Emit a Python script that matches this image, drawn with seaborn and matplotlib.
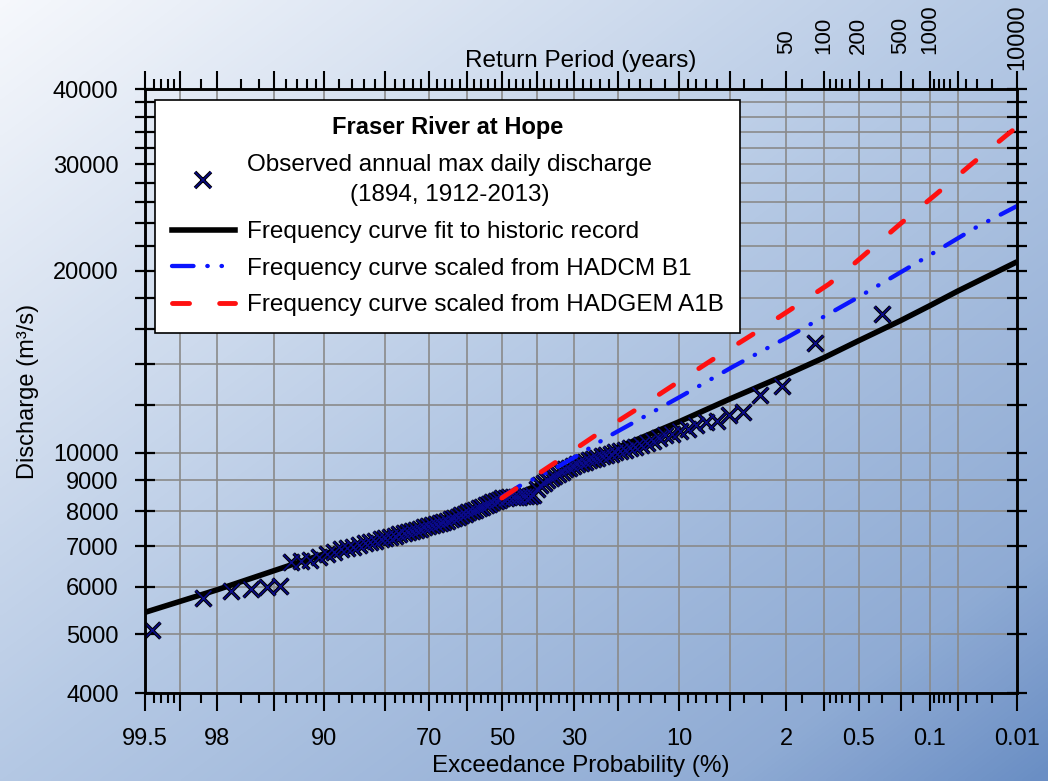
import numpy as np
import matplotlib
matplotlib.use("Agg")
import matplotlib.pyplot as plt
from matplotlib.colors import LinearSegmentedColormap
from matplotlib.lines import Line2D
from matplotlib.ticker import FixedLocator, FixedFormatter, NullLocator
import seaborn as sns
from statistics import NormalDist

plt.rcParams['font.family'] = ['Liberation Sans', 'DejaVu Sans']

# ---------------- data ----------------
obs_exceed = [0.30, 1.19, 2.16, 3.14, 4.11, 5.08, 6.05, 7.03, 8.00, 8.97, 9.94, 10.92,
              11.89, 12.86, 13.83, 14.81, 15.78, 16.75, 17.72, 18.70, 19.67, 20.64, 21.61,
              22.59, 23.56, 24.53, 25.51, 26.48, 27.45, 28.42, 29.40, 30.37, 31.34, 32.31,
              33.29, 34.26, 35.23, 36.20, 37.18, 38.15, 39.12, 40.09, 41.07, 42.04, 43.01,
              43.98, 44.96, 45.93, 46.90, 47.87, 48.85, 49.82, 50.79, 51.77, 52.74, 53.71,
              54.68, 55.66, 56.63, 57.60, 58.57, 59.55, 60.52, 61.49, 62.46, 63.44, 64.41,
              65.38, 66.35, 67.33, 68.30, 69.27, 70.24, 71.22, 72.19, 73.16, 74.13, 75.11,
              76.08, 77.05, 78.03, 79.00, 79.97, 80.94, 81.92, 82.89, 83.86, 84.83, 85.81,
              86.78, 87.75, 88.72, 89.70, 90.67, 91.64, 92.61, 93.59, 94.56, 95.53, 96.50,
              97.48, 98.45, 99.42]
obs_q = [16960, 15175, 12900, 12480, 11680, 11560, 11290, 11240, 11110, 10950, 10840, 10730,
         10710, 10560, 10450, 10370, 10300, 10230, 10170, 10110, 10060, 10010, 9960,
         9910, 9860, 9810, 9760, 9710, 9660, 9610, 9560, 9500, 9440, 9380,
         9300, 9230, 9150, 9080, 9000, 8920, 8850, 8700, 8510, 8490, 8480,
         8470, 8460, 8450, 8440, 8430, 8420, 8400, 8360, 8320, 8270, 8230,
         8180, 8140, 8090, 8050, 8000, 7960, 7910, 7870, 7830, 7790, 7760,
         7720, 7690, 7650, 7620, 7590, 7550, 7520, 7480, 7450, 7420, 7380,
         7350, 7320, 7290, 7260, 7230, 7190, 7150, 7110, 7080, 7030, 6990,
         6960, 6918, 6848, 6787, 6709, 6641, 6615, 6589, 6011, 5988, 5935,
         5897, 5752, 5090]

fit_exceed = [99.5, 98, 95, 90, 80, 70, 60, 50, 40, 30, 20, 10, 5, 2, 1, 0.5, 0.2, 0.1, 0.05, 0.01]
fit_q = [5440, 5930, 6376, 6800, 7260, 7657, 7987, 8331, 8824, 9472, 10205, 11254, 12267,
         13460, 14365, 15323, 16540, 17513, 18510, 20700]

b1_exceed = [50, 44.8, 35.0, 29.6, 22.15, 9.9, 4.75, 1.98, 0.52, 0.112, 0.0305, 0.01]
b1_q = [8440, 8812, 9420, 9860, 10628, 12373, 13882, 15509, 18028, 21015, 23630, 25600]

a1b_exceed = [50, 34.6, 25.05, 16.8, 10.8, 6.48, 3.56, 1.87, 0.908, 0.597, 0.2, 0.086, 0.0352,
              0.0136, 0.01]
a1b_q = [8410, 9665, 10669, 11754, 12930, 14230, 15660, 17236, 19020, 20280, 23940, 26780,
         30000, 33500, 34600]

x_major = [99.5, 99, 98, 95, 90, 80, 70, 60, 50, 40, 30, 20, 10, 5, 2, 1, 0.5, 0.2, 0.1, 0.05, 0.01]
x_labeled = [99.5, 98, 90, 70, 50, 30, 10, 2, 0.5, 0.1, 0.01]
x_minor = [99.4, 99.3, 99.2, 99.1, 98.5, 97, 96, 94, 93, 92, 91, 88, 86, 84, 82, 78, 76, 74, 72,
           68, 66, 64, 62, 58, 56, 54, 52, 48, 46, 44, 42, 38, 36, 34, 32, 28, 26, 24, 22,
           18, 16, 14, 12, 9, 8, 7, 6, 4, 3, 1.5, 0.9, 0.8, 0.7, 0.6, 0.4, 0.3, 0.15,
           0.09, 0.08, 0.07, 0.06, 0.04, 0.03, 0.02]
rp_labeled = [50, 100, 200, 500, 1000, 10000]
y_ticks = [4000, 5000, 6000, 7000, 8000, 9000, 10000, 12000, 14000, 16000, 18000, 20000,
           22000, 24000, 26000, 28000, 30000, 32000, 34000, 36000, 38000, 40000]
y_labeled = [4000, 5000, 6000, 7000, 8000, 9000, 10000, 20000, 30000, 40000]

# ---------------- probability scale helpers ----------------
_nd = NormalDist()
_inv = np.vectorize(lambda v: _nd.inv_cdf(v), otypes=[float])
_cdf = np.vectorize(lambda v: _nd.cdf(v), otypes=[float])


def p_fwd(p):
    p = np.clip(np.asarray(p, dtype=float), 1e-7, 100 - 1e-7)
    return _inv(p / 100.0)


def p_inv(z):
    return 100.0 * _cdf(np.asarray(z, dtype=float))


def t_fwd(t):
    t = np.clip(np.asarray(t, dtype=float), 1 + 1e-9, 1e12)
    return _inv(1.0 - 1.0 / t)


def t_inv(z):
    return 1.0 / (1.0 - np.clip(_cdf(np.asarray(z, dtype=float)), 0, 1 - 1e-12))


# ---------------- figure ----------------
W, H = 1048, 781
fig = plt.figure(figsize=(W / 100, H / 100), dpi=100)

bgax = fig.add_axes([0, 0, 1, 1], zorder=-10)
gx = np.linspace(0, 1, 300)[None, :]
gy = np.linspace(0, 1, 240)[:, None]
grad = (gx + gy) / 2.0
bg_cmap = LinearSegmentedColormap.from_list(
    'bg', [(0, '#f6f8fc'), (0.5, '#b4c8e4'), (0.85, '#8fabd4'), (1, '#6a8ec4')])
bgax.imshow(grad, cmap=bg_cmap, aspect='auto', extent=(0, 1, 0, 1),
            interpolation='bilinear', vmin=0, vmax=1)
bgax.axis('off')

ax = fig.add_axes([145 / W, 1 - 693 / H, 872 / W, 604 / H])
ax.set_facecolor('none')

# curves and points
sns.lineplot(x=fit_exceed, y=fit_q, ax=ax, color='black', linewidth=4,
             estimator=None, sort=False, zorder=3, solid_capstyle='butt')
sns.scatterplot(x=obs_exceed, y=obs_q, ax=ax, marker='x', s=130, color='black',
                linewidth=2.6, zorder=4)
sns.scatterplot(x=obs_exceed, y=obs_q, ax=ax, marker='x', s=130, color='#0a0a8a',
                linewidth=1.1, zorder=4.1)
blue_ls = (0, (5, 3.2, 0.1, 3.2, 0.1, 3.2))
red_ls = (0, (3.5, 6.2))
sns.lineplot(x=b1_exceed, y=b1_q, ax=ax, color='#0a14ff', linewidth=3.1,
             estimator=None, sort=False, zorder=5, linestyle=blue_ls, dash_capstyle='round')
sns.lineplot(x=a1b_exceed, y=a1b_q, ax=ax, color='#ff1010', linewidth=3.5,
             estimator=None, sort=False, zorder=5, linestyle=red_ls, dash_capstyle='round')

ax.set_xscale('function', functions=(p_fwd, p_inv))
ax.set_yscale('log')
ax.set_xlim(99.5, 0.01)
ax.set_ylim(4000, 40000)

ax.xaxis.set_major_locator(FixedLocator(x_major))
ax.xaxis.set_major_formatter(FixedFormatter(
    [('%g' % v) if v in x_labeled else '' for v in x_major]))
ax.xaxis.set_minor_locator(FixedLocator(x_minor))
ax.yaxis.set_major_locator(FixedLocator(y_ticks))
ax.yaxis.set_major_formatter(FixedFormatter(
    [str(v) if v in y_labeled else '' for v in y_ticks]))
ax.yaxis.set_minor_locator(NullLocator())

ax.grid(True, which='major', color='#8a8a8a', linewidth=1.2, zorder=0)
ax.set_axisbelow(True)

ax.tick_params(axis='x', which='major', direction='out', length=13, width=1.5,
               labelsize=17, pad=12, top=False)
ax.tick_params(axis='x', which='minor', direction='out', length=7, width=1.5, top=False)
ax.tick_params(axis='y', which='major', direction='inout', length=14, width=1.6,
               labelsize=17, pad=12, right=True)
for s in ax.spines.values():
    s.set_linewidth(1.8)
    s.set_color('black')

ax.set_xlabel('Exceedance Probability (%)', fontsize=17.5, labelpad=4)
ax.set_ylabel('Discharge (m³/s)', fontsize=17, labelpad=10)

# top return-period axis
ax2 = ax.twiny()
ax2.set_xscale('function', functions=(t_fwd, t_inv))
ax2.set_xlim(100 / 99.5, 10000)
ax2.xaxis.set_major_locator(FixedLocator([100.0 / v for v in x_major]))
ax2.xaxis.set_major_formatter(FixedFormatter(
    [('%d' % round(100.0 / v)) if round(100.0 / v) in rp_labeled and (100.0 / v) >= 49 else ''
     for v in x_major]))
ax2.xaxis.set_minor_locator(FixedLocator([100.0 / v for v in x_minor]))
ax2.tick_params(axis='x', which='major', direction='out', length=13, width=1.5,
                labelsize=16, pad=12, labelrotation=90)
ax2.tick_params(axis='x', which='minor', direction='out', length=7, width=1.5)
for tk, v in zip(ax2.xaxis.get_major_ticks(), x_major):
    tk.label2.set_verticalalignment('bottom')
    if abs(v - 0.01) < 1e-9:
        tk.set_pad(1)
        tk.label2.set_fontsize(17)
for s in ax2.spines.values():
    s.set_linewidth(1.8)
ax2.set_xlabel('Return Period (years)', fontsize=17.5)
ax2.xaxis.set_label_coords(0.5, 1.036)

# legend
h_obs = (Line2D([], [], ls='none', marker='x', color='black', markersize=11.4, mew=2.6),
         Line2D([], [], ls='none', marker='x', color='#0a0a8a', markersize=11.4, mew=1.1))
h_fit = Line2D([], [], color='black', lw=4)
h_b1 = Line2D([], [], color='#0a14ff', lw=3.1, ls=blue_ls, dash_capstyle='round')
h_a1b = Line2D([], [], color='#ff1010', lw=3.5, ls=red_ls, dash_capstyle='round')
leg = ax.legend(handles=[h_obs, h_fit, h_b1, h_a1b],
                labels=['Observed annual max daily discharge\n(1894, 1912-2013)',
                        'Frequency curve fit to historic record',
                        'Frequency curve scaled from HADCM B1',
                        'Frequency curve scaled from HADGEM A1B'],
                title='Fraser River at Hope',
                title_fontproperties={'weight': 'bold', 'size': 17},
                loc='upper left', bbox_to_anchor=(0.0115, 0.982), borderaxespad=0,
                fontsize=17.5, frameon=True, fancybox=False, edgecolor='black',
                framealpha=1, facecolor='white', handlelength=2.6, handletextpad=0.5,
                labelspacing=0.6, borderpad=0.68)
leg.get_frame().set_linewidth(1.2)
leg.set_zorder(10)
for t in leg.get_texts():
    t.set_multialignment('center')
    t.set_linespacing(1.5)

fig.savefig('out.png', dpi=100)
